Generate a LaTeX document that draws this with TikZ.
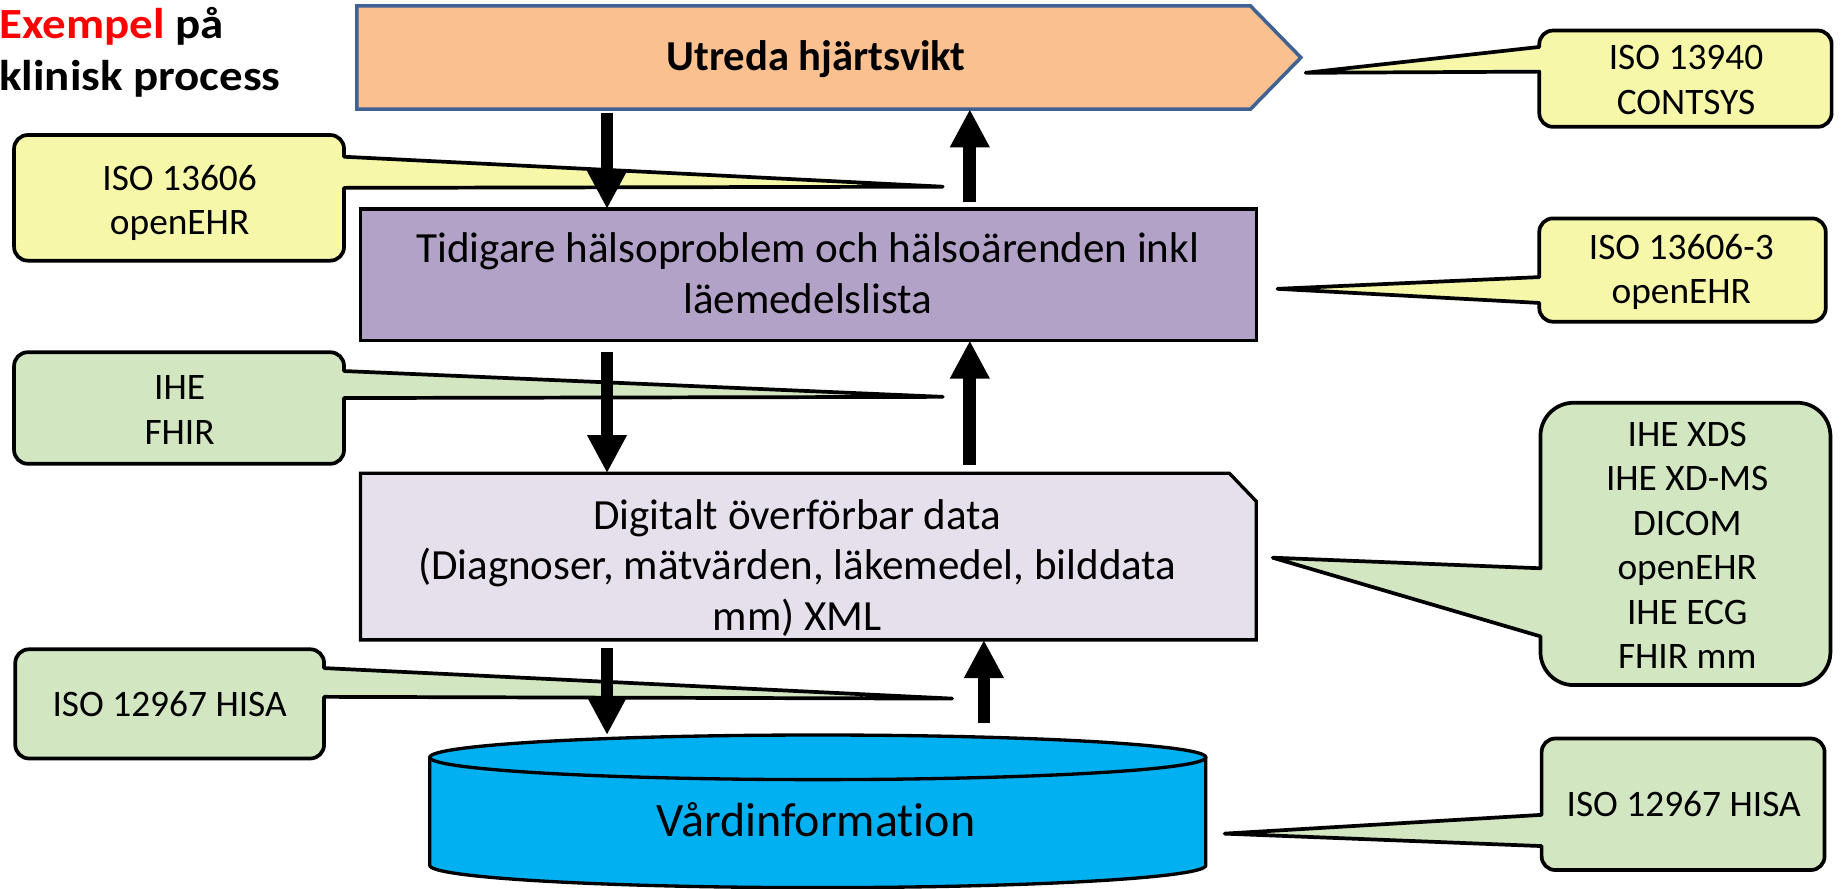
\documentclass[tikz,border=0pt]{standalone}
\usepackage{fontspec}
\usepackage{graphicx}
\setmainfont{Carlito}[Ligatures=NoCommon]
\usetikzlibrary{arrows.meta,calc,fit}

\definecolor{peach}{HTML}{FAC090}
\definecolor{peachline}{HTML}{3F6293}
\definecolor{plum}{HTML}{B3A2C7}
\definecolor{lilac}{HTML}{E5E0EC}
\definecolor{storecyan}{HTML}{00B0F0}
\definecolor{noteyellow}{HTML}{F7F7AA}
\definecolor{notegreen}{HTML}{D2E6C1}
\definecolor{titlered}{HTML}{FF0000}

\newcommand{\widehead}[1]{\scalebox{1.09}[1]{#1}}

\begin{document}
\begin{tikzpicture}[x=0.6pt,y=-0.6pt,
  frame/.style={inner sep=0pt, outer sep=0pt},
  boxline/.style={line width=1.7pt, line join=miter},
  maintext/.style={font=\fontsize{22}{25.8}\selectfont, align=center, inner sep=0pt, anchor=base},
  notetext/.style={font=\fontsize{19.1}{22.7}\selectfont, align=center, inner sep=0pt, anchor=base},
  note/.style={line width=1.9pt, line join=round, draw=black},
  flow/.style={line width=6.5pt, -{Triangle[length=19.5pt,width=19pt]}}
]
\useasboundingbox (0,0) rectangle (1568,757);

% heading (anchored on the baseline of its last line)
\node[anchor=base west, inner sep=0pt, align=left,
      font=\bfseries\fontsize{22}{26.7}\selectfont] (heading) at (-1,77.2)
      {\widehead{\textcolor{titlered}{Exempel} på}\\\widehead{klinisk process}};

% process step (pentagon)
\node[frame, fit={(304,5) (1108,93)}] (task) {};
\draw[line width=1.8pt, draw=peachline, fill=peach]
  (task.north west) -- (1065,5) -- (task.east) -- (1065,93) -- (task.south west) -- cycle;
\node[anchor=base, inner sep=0pt, font=\bfseries\fontsize{21.8}{26}\selectfont]
  (tasktext) at (695,60) {Utreda hjärtsvikt};

% health history
\node[frame, fit={(307,178) (1070,290)}, draw, boxline, fill=plum] (history) {};
\node[maintext] (historytext) at (688,266.8)
  {Tidigare hälsoproblem och hälsoärenden inkl\\läemedelslista};

% transferable data (snipped corner)
\node[frame, fit={(307,403) (1070,545)}] (data) {};
\draw[boxline, fill=lilac]
  (data.north west) -- ($(data.north east)+(-23,0)$) -- ($(data.north east)+(0,24)$)
  -- (data.south east) -- (data.south west) -- cycle;
\node[maintext] (datatext) at (679,536.6)
  {Digitalt överförbar data\\(Diagnoser, mätvärden, läkemedel, bilddata\\mm) XML};

% care information store (cylinder)
\node[frame, fit={(366,626) (1027,757)}] (store) {};
\fill[storecyan] (366,645) -- (366,737)
  .. controls (366,747.5) and (513.97,756) .. (696.5,756)
  .. controls (879.03,756) and (1027,747.5) .. (1027,737) -- (1027,645) -- cycle;
\draw[boxline] (366,645) -- (366,737)
  .. controls (366,747.5) and (513.97,756) .. (696.5,756)
  .. controls (879.03,756) and (1027,747.5) .. (1027,737) -- (1027,645);
\draw[boxline, fill=storecyan] (696.5,645) ellipse [x radius=330.5, y radius=19];
\node[anchor=base, inner sep=0pt, font=\fontsize{24.5}{29}\selectfont]
  (storetext) at (695,712.6) {Vårdinformation};

% standards callouts, right side
\draw[note, fill=noteyellow, rounded corners=7pt]
  (1311,40) -- (1311,26) -- (1560,26) -- (1560,108) -- (1311,108)
  [sharp corners] -- (1311,61) -- (1112,62) -- cycle;
\node[notetext] (contsys) at (1436,97.3) {ISO 13940\\CONTSYS};

\draw[note, fill=noteyellow, rounded corners=7pt]
  (1311,236) -- (1311,186) -- (1555,186) -- (1555,274) -- (1311,274)
  [sharp corners] -- (1311,258) -- (1088,246) -- cycle;
\node[notetext] (ehrthree) at (1432,258.8) {ISO 13606-3\\openEHR};

\draw[note, fill=notegreen, rounded corners=17pt]
  (1312,484) -- (1312,343) -- (1559,343) -- (1559,583.5) -- (1312,583.5)
  [sharp corners] -- (1312,542) -- (1084,475) -- cycle;
\node[notetext] (exchange) at (1437,569.5)
  {IHE XDS\\IHE XD-MS\\DICOM\\openEHR\\IHE ECG\\FHIR mm};

\draw[note, fill=notegreen, rounded corners=7pt]
  (1313,694) -- (1313,629) -- (1554,629) -- (1554,741) -- (1313,741)
  [sharp corners] -- (1313,720.6) -- (1043,710) -- cycle;
\node[notetext] (hisaright) at (1434,695.6) {ISO 12967 HISA};

% standards callouts, left side
\draw[note, fill=noteyellow, rounded corners=7pt]
  (293,160) -- (293,222) -- (12,222) -- (12,115) -- (293,115)
  [sharp corners] -- (293,133.5) -- (803,159) -- cycle;
\node[notetext] (ehr) at (153,199.8) {ISO 13606\\openEHR};

\draw[note, fill=notegreen, rounded corners=7pt]
  (293,339) -- (293,395) -- (12,395) -- (12,300) -- (293,300)
  [sharp corners] -- (293,316) -- (803,338) -- cycle;
\node[notetext] (ihe) at (153,378.3) {IHE\\FHIR};

\draw[note, fill=notegreen, rounded corners=7pt]
  (276,593.5) -- (276,646) -- (13,646) -- (13,553) -- (276,553)
  [sharp corners] -- (276,569) -- (811,595) -- cycle;
\node[notetext] (hisaleft) at (144.5,610) {ISO 12967 HISA};

% information flow
\coordinate (downx) at (517,0);
\coordinate (upx) at (826,0);
\coordinate (upxlow) at (838,0);
\draw[flow] ($(downx |- task.south)+(0,3)$) -- (downx |- history.north);
\draw[flow] ($(upx |- history.north)+(0,-6)$) -- (upx |- task.south);
\draw[flow] ($(downx |- history.south)+(0,9.5)$) -- (downx |- data.north);
\draw[flow] ($(upx |- data.north)+(0,-7)$) -- (upx |- history.south);
\draw[flow] ($(downx |- data.south)+(0,7)$) -- (downx |- store.north);
\draw[flow] ($(upxlow |- store.north)+(0,-10)$) -- (upxlow |- data.south);
\end{tikzpicture}
\end{document}
